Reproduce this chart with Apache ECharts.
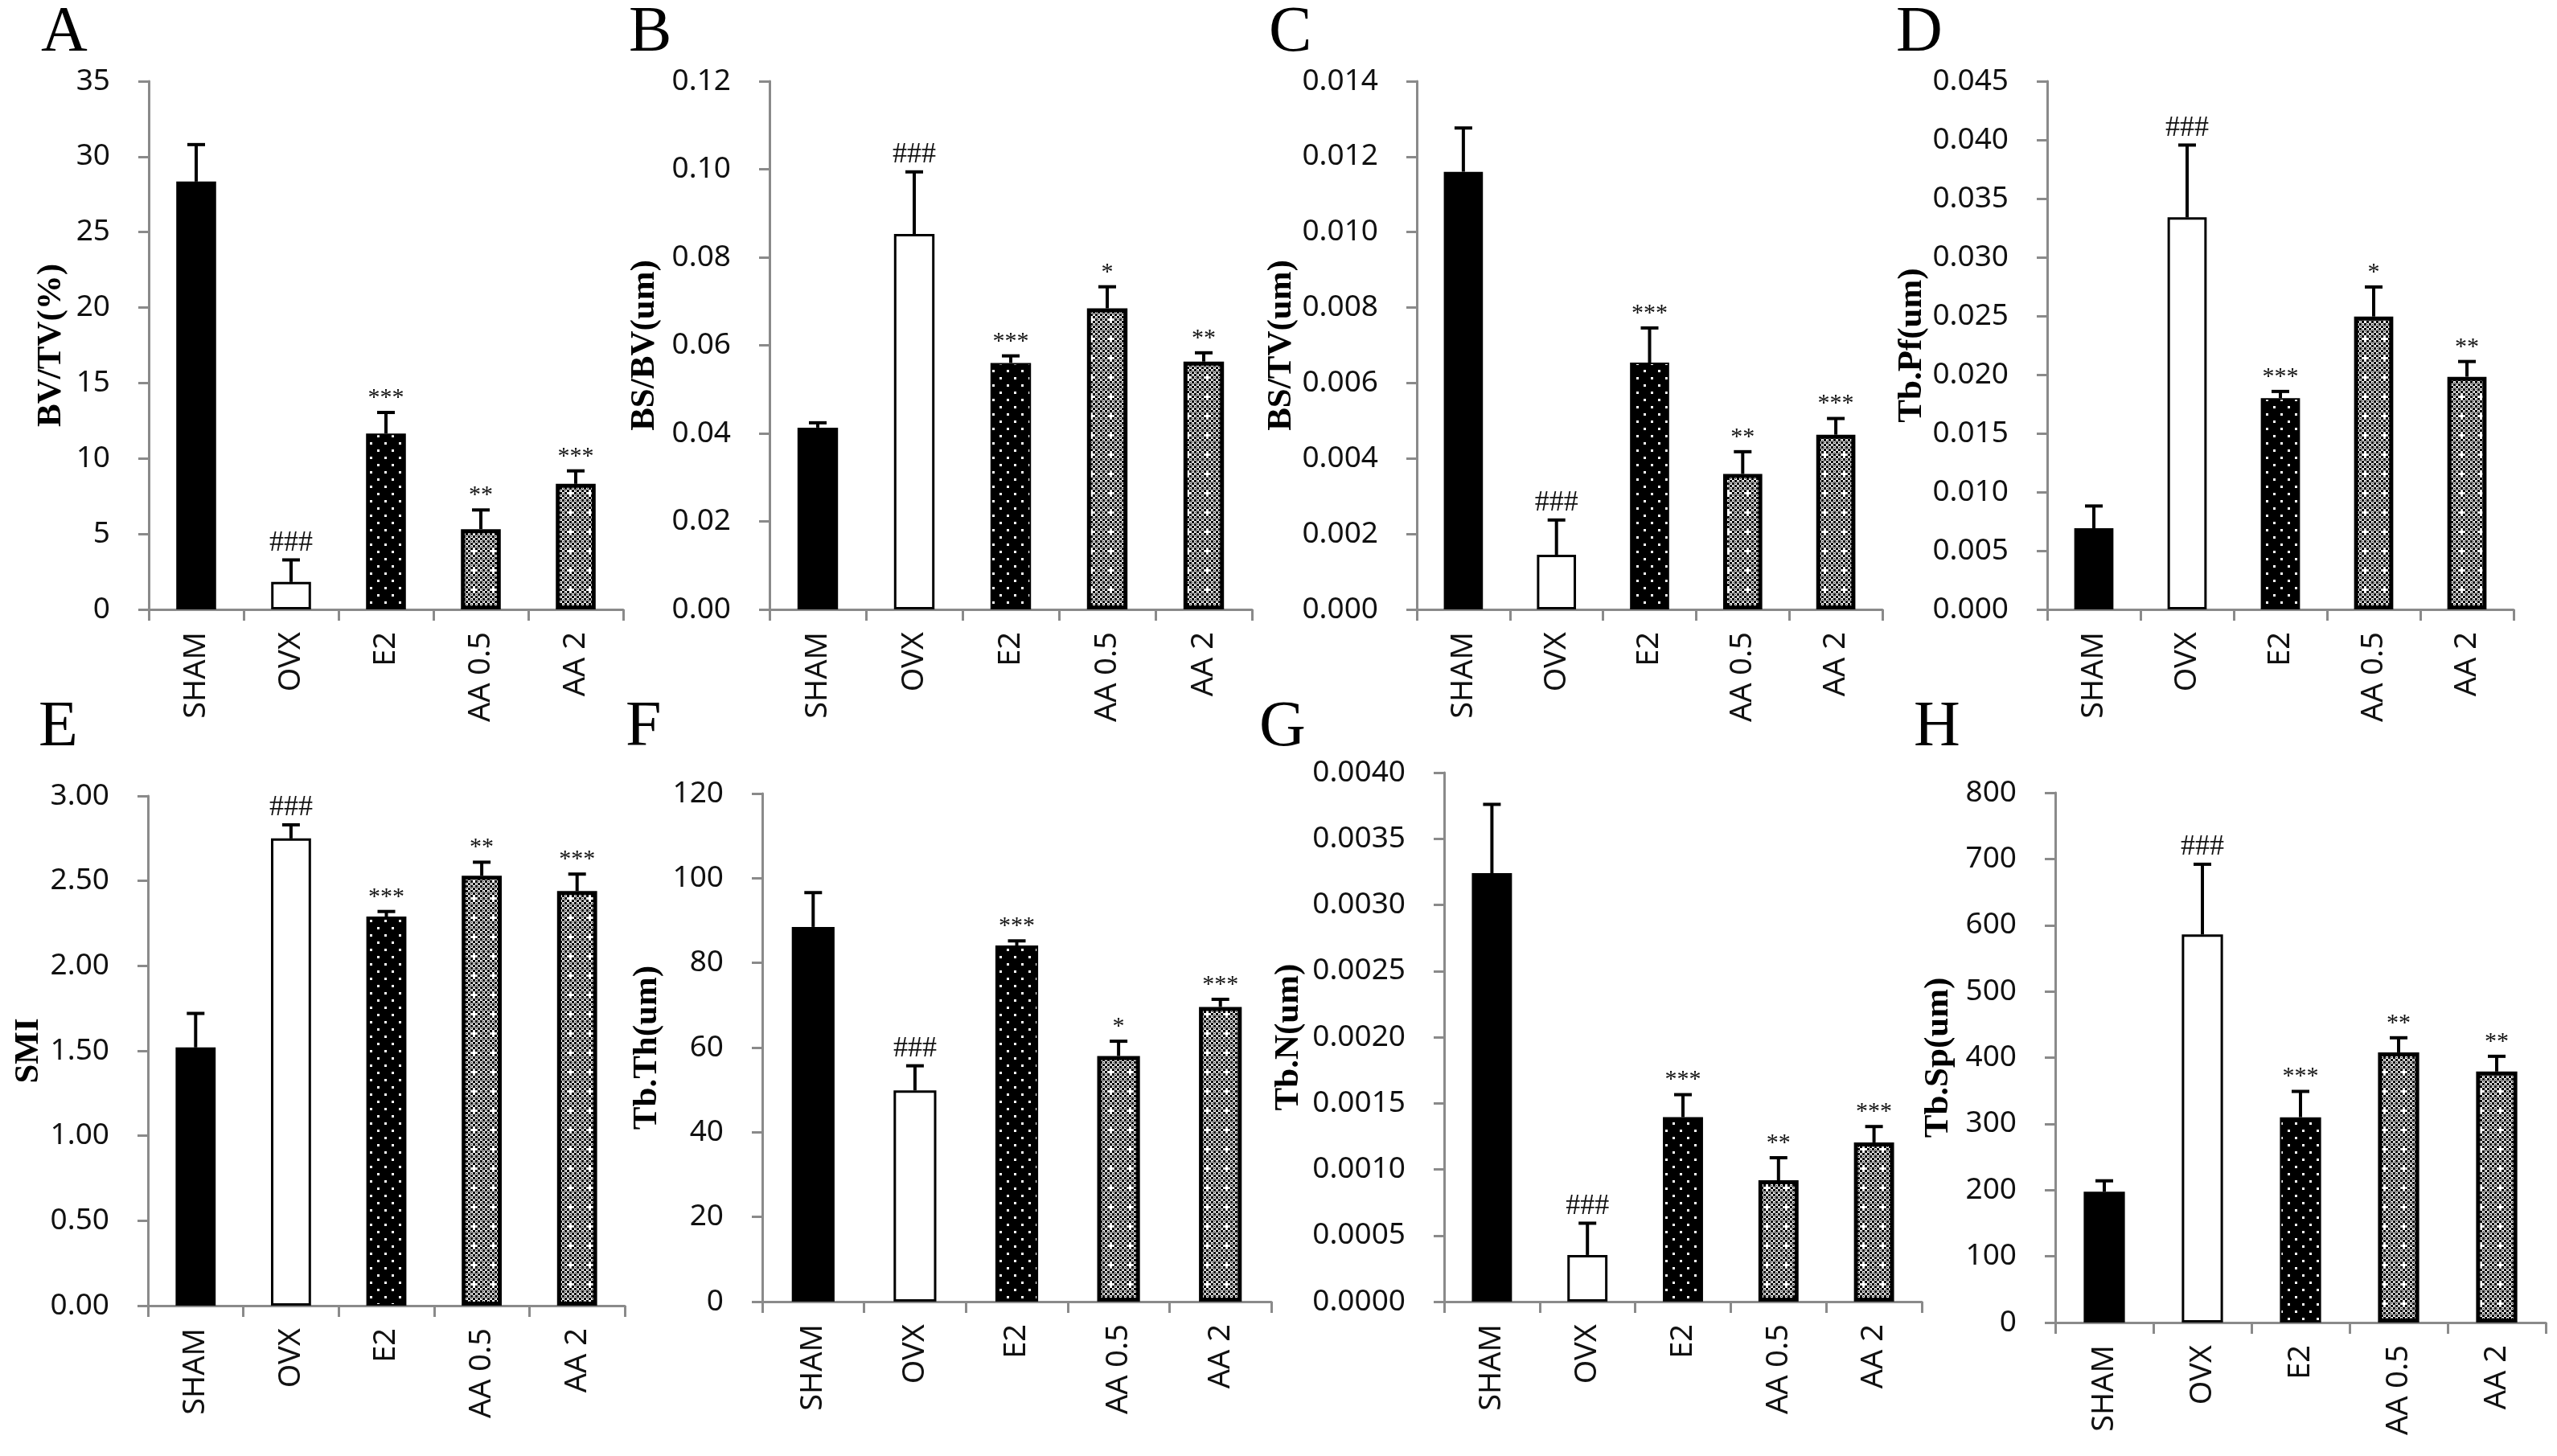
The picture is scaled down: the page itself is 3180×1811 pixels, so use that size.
<!DOCTYPE html>
<html><head><meta charset="utf-8">
<script src="https://cdn.jsdelivr.net/npm/echarts@6/dist/echarts.min.js"></script>
<style>html,body{margin:0;padding:0;background:#fff;}#c{width:3180px;height:1811px;}</style>
</head><body><div id="c"></div>
<script>
const categories = ['SHAM', 'OVX', 'E2', 'AA 0.5', 'AA 2'];

// Panel A: BV/TV(%)
const bvtvMean = [28.35, 1.82, 11.66, 5.32, 8.32];
const bvtvSd   = [2.45, 1.46, 1.39, 1.27, 0.86];
const bvtvSig  = ['', '###', '***', '**', '***'];
// Panel B: BS/BV(um)
const bsbvMean = [0.0413, 0.0853, 0.0560, 0.0684, 0.0563];
const bsbvSd   = [0.0011, 0.0141, 0.0016, 0.0049, 0.0020];
const bsbvSig  = ['', '###', '***', '*', '**'];
// Panel C: BS/TV(um)
const bstvMean = [0.0116, 0.00145, 0.00654, 0.00359, 0.00463];
const bstvSd   = [0.00116, 0.00092, 0.00092, 0.00059, 0.00043];
const bstvSig  = ['', '###', '***', '**', '***'];
// Panel D: Tb.Pf(um)
const tbpfMean = [0.00692, 0.0334, 0.0180, 0.02495, 0.01982];
const tbpfSd   = [0.00189, 0.00616, 0.00057, 0.00252, 0.0013];
const tbpfSig  = ['', '###', '***', '*', '**'];
// Panel E: SMI
const smiMean = [1.52, 2.75, 2.29, 2.53, 2.44];
const smiSd   = [0.20, 0.08, 0.03, 0.08, 0.10];
const smiSig  = ['', '###', '***', '**', '***'];
// Panel F: Tb.Th(um)
const tbthMean = [88.5, 49.9, 84.1, 58.0, 69.6];
const tbthSd   = [8.1, 5.8, 1.1, 3.5, 1.8];
const tbthSig  = ['', '###', '***', '*', '***'];
// Panel G: Tb.N(um)
const tbnMean = [0.00324, 0.000353, 0.001395, 0.000918, 0.001204];
const tbnSd   = [0.00052, 0.00024, 0.00017, 0.00017, 0.00012];
const tbnSig  = ['', '###', '***', '**', '***'];
// Panel H: Tb.Sp(um)
const tbspMean = [197.5, 586, 310, 408, 379];
const tbspSd   = [16.5, 106, 39, 22, 23];
const tbspSig  = ['', '###', '***', '**', '**'];

const panelLetters = ['A', 'B', 'C', 'D', 'E', 'F', 'G', 'H'];
const axisTitles = ['BV/TV(%)', 'BS/BV(um)', 'BS/TV(um)', 'Tb.Pf(um)', 'SMI', 'Tb.Th(um)', 'Tb.N(um)', 'Tb.Sp(um)'];
const axisMax = [35, 0.12, 0.014, 0.045, 3, 120, 0.004, 800];
const axisStep = [5, 0.02, 0.002, 0.005, 0.5, 20, 0.0005, 100];
const axisDecimals = [0, 2, 3, 3, 2, 0, 4, 0];

const means = [bvtvMean, bsbvMean, bstvMean, tbpfMean, smiMean, tbthMean, tbnMean, tbspMean];
const sds = [bvtvSd, bsbvSd, bstvSd, tbpfSd, smiSd, tbthSd, tbnSd, tbspSd];
const sigs = [bvtvSig, bsbvSig, bstvSig, tbpfSig, smiSig, tbthSig, tbnSig, tbspSig];

// layout (pixels)
const layout = [
  {left: 185, top: 101, width: 590, height: 657, gap: 100, lx: 51, ly: 2},
  {left: 957, top: 101, width: 600, height: 657, gap: 134, lx: 782, ly: 2},
  {left: 1762, top: 101, width: 579, height: 657, gap: 146, lx: 1578, ly: 2},
  {left: 2546, top: 101, width: 580, height: 657, gap: 146, lx: 2358, ly: 2},
  {left: 184, top: 990, width: 593, height: 634, gap: 127, lx: 48, ly: 866},
  {left: 948, top: 987, width: 633, height: 632, gap: 122, lx: 778, ly: 866},
  {left: 1796, top: 961, width: 594, height: 658, gap: 172, lx: 1566, ly: 866},
  {left: 2556, top: 986, width: 610, height: 659, gap: 124, lx: 2380, ly: 866}
];

function dotPattern() {
  const c = document.createElement('canvas');
  c.width = 18; c.height = 18;
  const g = c.getContext('2d');
  g.fillStyle = '#000'; g.fillRect(0, 0, 18, 18);
  g.fillStyle = '#fff';
  g.fillRect(1, 1, 3, 3);
  g.fillRect(10, 10, 3, 3);
  return c;
}
function checkPattern() {
  const c = document.createElement('canvas');
  c.width = 24; c.height = 24;
  const g = c.getContext('2d');
  g.fillStyle = '#fff'; g.fillRect(0, 0, 24, 24);
  g.fillStyle = '#000';
  for (let i = 0; i < 8; i++) for (let j = 0; j < 8; j++) {
    if (i === 4 && j === 4) continue;
    if ((i + j) % 2 === 0) g.fillRect(i * 3, j * 3, 3, 3);
    else if (!((i === 3 || i === 5) && j === 4) && !((j === 3 || j === 5) && i === 4)) g.fillRect(i * 3 + 1, j * 3 + 1, 1, 1);
  }
  return c;
}
const dotFill = {image: dotPattern(), repeat: 'repeat'};
const checkFill = {image: checkPattern(), repeat: 'repeat'};
const barStyles = [
  {color: '#000', borderColor: '#000', borderWidth: 0},
  {color: '#fff', borderColor: '#000', borderWidth: 3},
  {color: dotFill, borderColor: '#000', borderWidth: 2},
  {color: checkFill, borderColor: '#000', borderWidth: 5},
  {color: checkFill, borderColor: '#000', borderWidth: 5}
];

const axisGray = '#8a8a8a';
const grid = [], xAxis = [], yAxis = [], series = [], graphic = [];
layout.forEach((L, i) => {
  grid.push({left: L.left, top: L.top, width: L.width, height: L.height, containLabel: false});
  xAxis.push({
    type: 'category', gridIndex: i, data: categories, boundaryGap: true,
    axisLine: {show: true, lineStyle: {color: axisGray, width: 3}},
    axisTick: {show: true, length: 14, alignWithLabel: false, lineStyle: {color: axisGray, width: 3}},
    axisLabel: {rotate: 90, margin: 28, fontFamily: 'Noto Sans', fontSize: 38, color: '#111'}
  });
  const dec = axisDecimals[i];
  yAxis.push({
    type: 'value', gridIndex: i, min: 0, max: axisMax[i], interval: axisStep[i],
    axisLine: {show: true, lineStyle: {color: axisGray, width: 3}},
    axisTick: {show: true, length: 13, lineStyle: {color: axisGray, width: 3}},
    splitLine: {show: false},
    axisLabel: {margin: 48, fontFamily: 'Noto Sans', fontSize: 37, color: '#111',
      formatter: v => Number(v).toFixed(dec)},
    name: axisTitles[i], nameLocation: 'middle', nameRotate: 90, nameGap: L.gap,
    nameTextStyle: {fontFamily: 'Liberation Serif', fontWeight: 'bold', fontSize: 43, color: '#000'}
  });
  series.push({
    type: 'bar', xAxisIndex: i, yAxisIndex: i, barWidth: '42%', silent: true,
    data: means[i].map((v, k) => ({value: v, itemStyle: barStyles[k]}))
  });
  const sig = sigs[i];
  series.push({
    type: 'custom', xAxisIndex: i, yAxisIndex: i, z: 5, silent: true,
    data: means[i].map((m, k) => [k, m, m + sds[i][k]]),
    encode: {x: 0, y: [1, 2]},
    renderItem: (params, api) => {
      const p1 = api.coord([api.value(0), api.value(1)]);
      const p2 = api.coord([api.value(0), api.value(2)]);
      const lab = sig[params.dataIndex];
      const isHash = lab.indexOf('#') >= 0;
      return {type: 'group', children: [
        {type: 'line', shape: {x1: p1[0], y1: p1[1], x2: p2[0], y2: p2[1]}, style: {stroke: '#000', lineWidth: 4}},
        {type: 'line', shape: {x1: p2[0] - 11, y1: p2[1], x2: p2[0] + 11, y2: p2[1]}, style: {stroke: '#000', lineWidth: 4}},
        {type: 'text', x: p2[0], y: p2[1] - 3, style: {text: lab, align: 'center', verticalAlign: 'bottom',
          font: (isHash ? '36px' : '30px') + ' "Liberation Serif"', fill: '#111'}}
      ]};
    }
  });
  graphic.push({type: 'text', left: L.lx, top: L.ly,
    style: {text: panelLetters[i], font: '80px "Liberation Serif"', fill: '#000'}});
});

const chart = echarts.init(document.getElementById('c'), null, {renderer: 'canvas'});
chart.setOption({animation: false, backgroundColor: '#fff', grid, xAxis, yAxis, series, graphic});
</script>
</body></html>
